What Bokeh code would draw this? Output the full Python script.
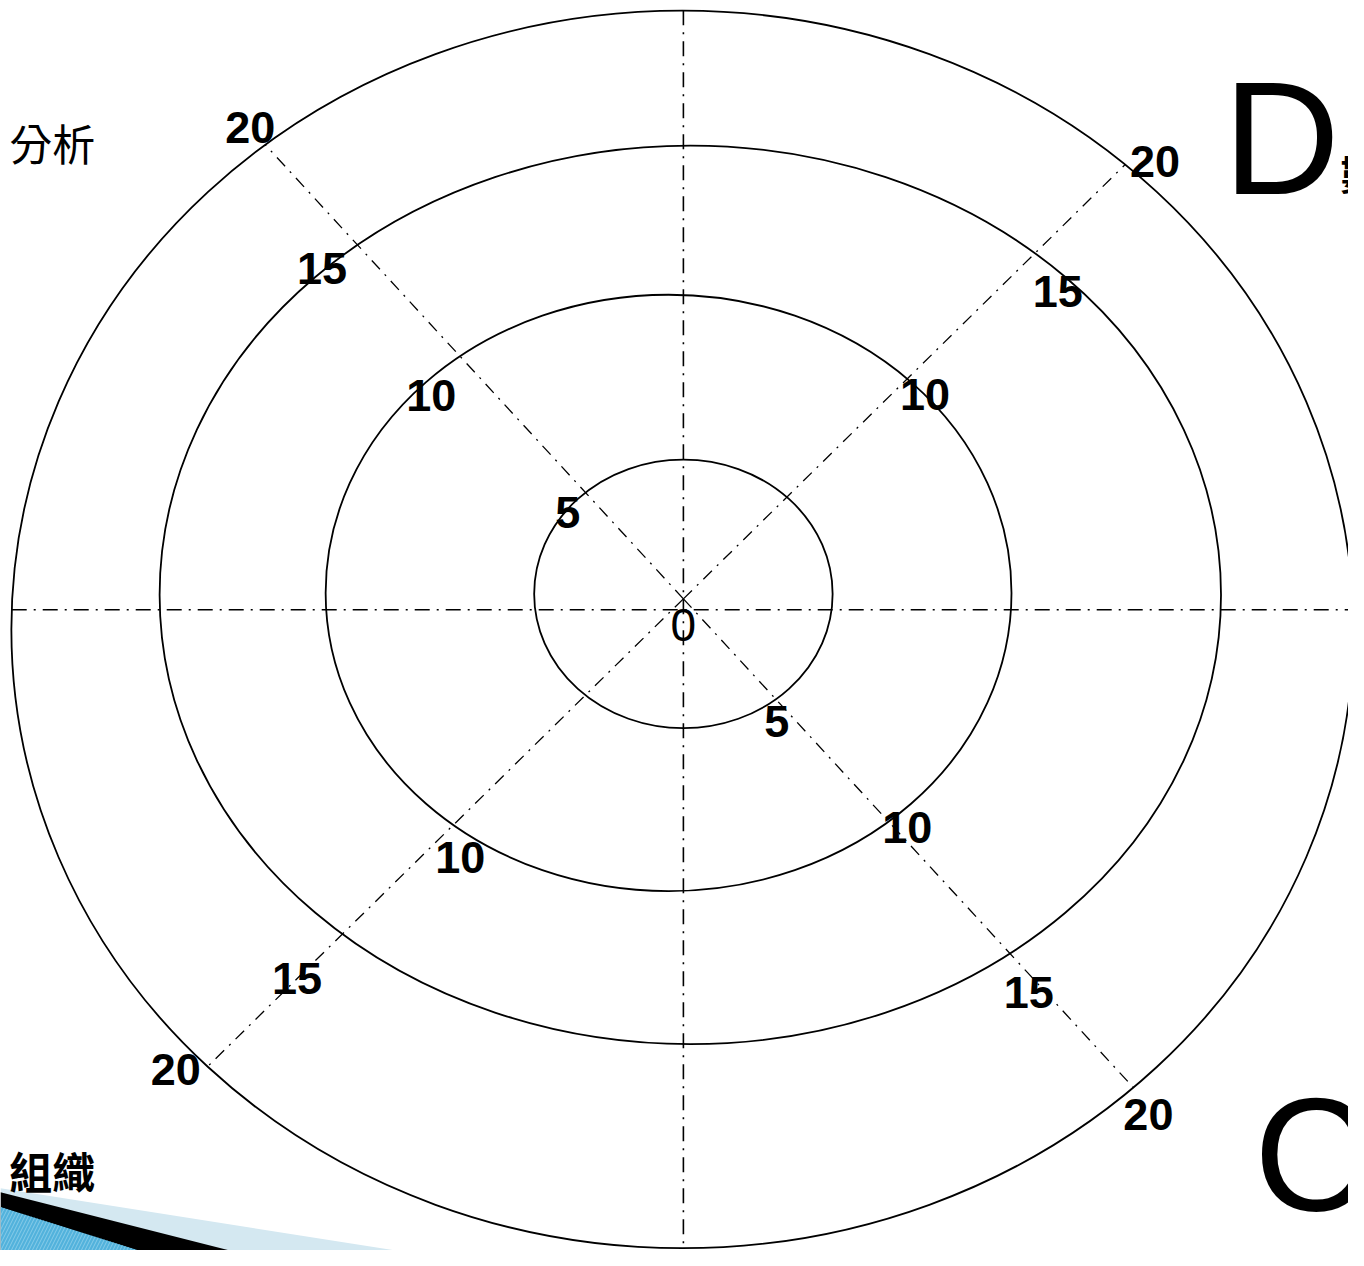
import numpy as np
from bokeh.plotting import figure
from bokeh.models import Range1d, ColumnDataSource
from bokeh.core.properties import value
from bokeh.embed import file_html
from bokeh.resources import INLINE

# ---------------- data ----------------
ring_values = [5, 10, 15, 20]
# radial tick labels shown along each diagonal spoke (angle in degrees)
tl_values = [5, 10, 15, 20]      # spoke 135
tr_values = [10, 15, 20]         # spoke 45
bl_values = [10, 15, 20]         # spoke 225
br_values = [5, 10, 15, 20]      # spoke 315
center_label = "0"
corner_texts = ["分析", "組織"]
side_letters = ["D", "C"]

# ---------------- layout (reference pixel space) ----------------
REF_W, REF_H = 1364, 1266
CX, CY = 691, 606          # spoke crossing
H_AXIS_Y = 617
ring_geom = {5: (691, 601, 151, 136), 10: (676, 600, 347, 302),
             15: (698, 602, 537, 455), 20: (690, 637, 679, 627)}
spoke_slope = {45: 0.984, 135: 1.087, 225: 0.984, 315: 1.087}
label_nudge = {
    135: [(-18, 20), (-29, 40), (-36, 24), (-15, -17)],
    45: [(18, 16), (23, 39), (30, -3)],
    225: [(7, 33), (-46, 45), (-32, 3)],
    315: [(1, 23), (19, 6), (19, 40), (15, 27)],
}

def direction(angle):
    a = np.deg2rad(angle)
    ux = np.sign(np.cos(a))
    uy = -np.sign(np.sin(a)) * spoke_slope[angle]
    n = np.hypot(ux, uy)
    return ux / n, uy / n

def hit(x0, y0, ux, uy, ring):
    ecx, ecy, rx, ry = ring_geom[ring]
    dx, dy = x0 - ecx, y0 - ecy
    A = (ux / rx) ** 2 + (uy / ry) ** 2
    B = 2 * (dx * ux / rx ** 2 + dy * uy / ry ** 2)
    C = (dx / rx) ** 2 + (dy / ry) ** 2 - 1
    t = (-B + np.sqrt(B * B - 4 * A * C)) / (2 * A)
    return x0 + t * ux, y0 + t * uy

p = figure(width=1348, height=1250, output_backend="svg", toolbar_location=None,
           x_range=Range1d(0, REF_W), y_range=Range1d(REF_H, 0),
           min_border=0, outline_line_color=None)
p.axis.visible = False
p.grid.visible = False
p.background_fill_color = "white"

# decorative swoosh (bottom-left)
p.patch([0, 400, 400, 0], [1203, 1266, 1266, 1266], fill_color="#d4e8f1", line_color=None)
p.patch([0, 232, 0], [1207, 1266, 1266], fill_color="black", line_color=None)
p.patch([0, 140, 0], [1222, 1266, 1266], fill_color="#52b2dc", line_color=None,
        hatch_pattern="right_diagonal_line", hatch_color="#86cbe8", hatch_scale=7, hatch_weight=1)

# rings
rs = ColumnDataSource(dict(
    x=[ring_geom[v][0] for v in ring_values],
    y=[ring_geom[v][1] for v in ring_values],
    w=[2 * ring_geom[v][2] for v in ring_values],
    h=[2 * ring_geom[v][3] for v in ring_values]))
p.ellipse(x="x", y="y", width="w", height="h", source=rs,
          fill_color=None, line_color="black", line_width=1.8)

outer = max(ring_values)
# horizontal and vertical spokes
xl, _ = hit(CX, H_AXIS_Y, -1, 0, outer)
xr, _ = hit(CX, H_AXIS_Y, 1, 0, outer)
p.line([xl, xr], [H_AXIS_Y, H_AXIS_Y], line_color="black", line_width=1.6, line_dash="15 7 2 7")
_, yt = hit(CX, CY, 0, -1, outer)
_, yb = hit(CX, CY, 0, 1, outer)
p.line([CX, CX], [yt, yb], line_color="black", line_width=1.6, line_dash="15 7 2 7")
# diagonal spokes
for ang in (45, 135, 225, 315):
    ux, uy = direction(ang)
    ex, ey = hit(CX, CY, ux, uy, outer)
    p.line([CX, ex], [CY, ey], line_color="black", line_width=1.3, line_dash="12 7 2 7")

# radial labels
lx, ly, lt = [], [], []
for ang, vals in ((135, tl_values), (45, tr_values), (225, bl_values), (315, br_values)):
    ux, uy = direction(ang)
    for v, (ndx, ndy) in zip(vals, label_nudge[ang]):
        hx, hy = hit(CX, CY, ux, uy, v)
        lx.append(hx + ndx)
        ly.append(hy + ndy)
        lt.append(str(v))
p.text(x=lx, y=ly, text=lt, text_font=value("Liberation Sans"), text_font_style="bold",
       text_font_size="45px", text_align="center", text_baseline="middle", text_color="black")
p.text(x=[CX], y=[632], text=[center_label], text_font=value("Liberation Sans"),
       text_font_size="46px", text_align="center", text_baseline="middle", text_color="black")

# surrounding slide texts
p.text(x=[96], y=[143], text=[corner_texts[0]], text_font=value("Noto Sans CJK TC"),
       text_font_size="43px", text_align="right", text_baseline="middle", text_color="black")
p.text(x=[96], y=[1184], text=[corner_texts[1]], text_font=value("Noto Sans CJK TC"),
       text_font_style="bold", text_font_size="43px", text_align="right",
       text_baseline="middle", text_color="black")
p.text(x=[1237], y=[139], text=[side_letters[0]], text_font=value("Liberation Sans"),
       text_font_size="162px", text_align="left", text_baseline="alphabetic", text_color="black")
p.text(x=[1268], y=[1168], text=[side_letters[1]], text_font=value("Liberation Sans"),
       text_font_size="162px", text_align="left", text_baseline="alphabetic", text_color="black")
p.text(x=[1356], y=[173], text=["數"], text_font=value("Noto Sans CJK TC"), text_font_style="bold",
       text_font_size="42px", text_align="left", text_baseline="middle", text_color="black")

open("out.html", "w").write(file_html(p, INLINE))
